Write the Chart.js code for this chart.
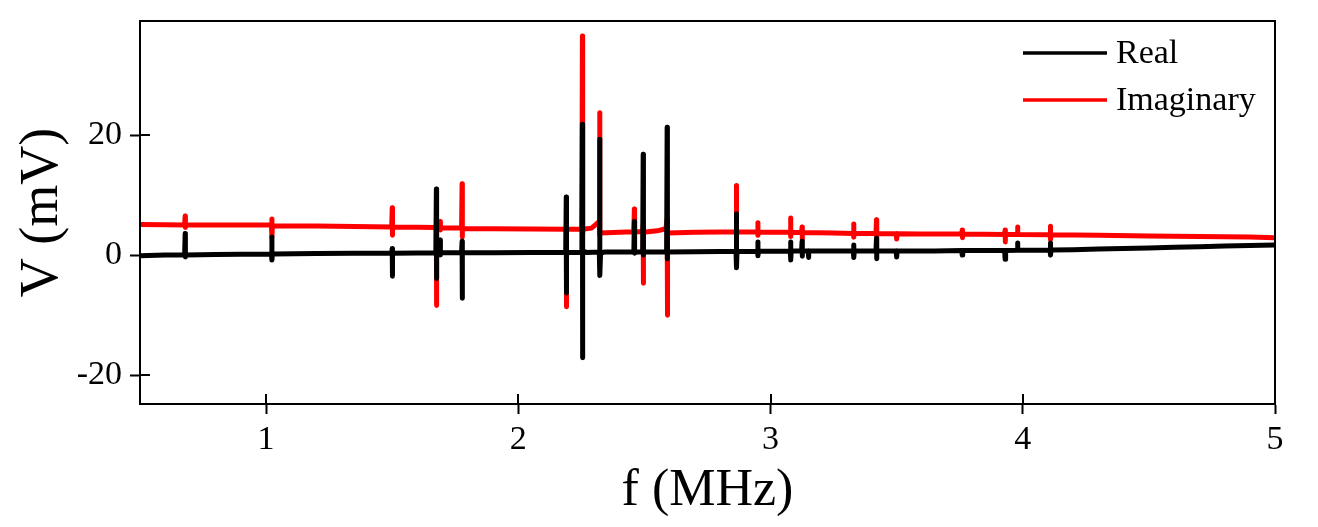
<!DOCTYPE html>
<html>
<head>
<meta charset="utf-8">
<script src="https://cdn.jsdelivr.net/npm/chart.js@4.4.1/dist/chart.umd.min.js"></script>
<style>
  html, body { margin: 0; padding: 0; background: #ffffff; }
  #wrap { width: 1318px; height: 527px; }
</style>
</head>
<body>
<div id="wrap"><canvas id="c" width="1318" height="527"></canvas></div>
<script>
// ---- Data ----
const seriesLabels = ["Real", "Imaginary"];
const seriesColors = ["#000000", "#ff0000"];
// [frequency (MHz), V (mV)]
const realPoints = [
  [0.50,-0.1],[0.60,0.0],[0.677,0.0],[0.679,3.6],[0.679,-0.3],[0.681,0.0],[0.80,0.1],[0.90,0.15],
  [1.021,0.2],[1.023,3.0],[1.023,-0.8],[1.025,0.2],[1.20,0.25],[1.35,0.3],
  [1.498,0.3],[1.50,1.1],[1.50,-3.5],[1.502,0.3],[1.60,0.35],
  [1.673,0.4],[1.675,11.0],[1.675,-3.9],[1.677,0.8],[1.688,0.6],[1.69,2.5],[1.69,0.0],[1.692,0.4],
  [1.775,0.4],[1.777,2.3],[1.777,-7.2],[1.779,0.4],[1.90,0.4],[2.05,0.45],
  [2.188,0.45],[2.19,9.7],[2.19,-6.3],[2.192,0.2],[2.20,0.45],
  [2.252,0.45],[2.254,21.8],[2.254,-17.1],[2.256,0.7],[2.27,0.45],
  [2.321,0.5],[2.323,19.3],[2.323,-3.4],[2.326,0.3],[2.34,0.5],
  [2.458,0.5],[2.46,5.6],[2.46,0.3],[2.462,0.5],
  [2.493,0.5],[2.495,16.8],[2.495,0.0],[2.497,0.5],
  [2.588,0.5],[2.59,21.3],[2.59,-0.6],[2.592,0.5],[2.70,0.55],[2.80,0.6],
  [2.863,0.6],[2.865,6.9],[2.865,-2.1],[2.867,0.6],
  [2.948,0.65],[2.95,2.2],[2.95,-0.1],[2.952,0.65],
  [3.078,0.7],[3.08,2.2],[3.08,-0.8],[3.082,0.7],
  [3.123,0.7],[3.125,2.3],[3.125,-0.2],[3.127,0.7],[3.15,0.7],[3.15,-0.4],[3.152,0.7],[3.25,0.7],
  [3.328,0.7],[3.33,1.7],[3.33,-0.4],[3.332,0.7],
  [3.418,0.7],[3.42,2.8],[3.42,-0.6],[3.422,0.7],
  [3.498,0.7],[3.50,-0.3],[3.502,0.7],[3.65,0.7],
  [3.758,0.75],[3.76,0.0],[3.762,0.75],[3.85,0.75],
  [3.928,0.75],[3.93,-0.7],[3.932,0.75],[3.978,0.8],[3.98,2.0],[3.98,0.8],
  [4.108,0.85],[4.11,2.0],[4.11,0.0],[4.112,0.85],
  [4.20,0.9],[4.30,1.0],[4.40,1.1],[4.50,1.2],[4.60,1.3],[4.70,1.4],[4.80,1.5],[4.90,1.6],[5.00,1.7]
];
const imagPoints = [
  [0.50,5.1],[0.60,5.05],[0.677,5.0],[0.679,6.5],[0.679,4.6],[0.681,5.0],[0.85,5.0],
  [1.021,5.0],[1.023,6.0],[1.023,3.0],[1.025,4.9],[1.20,4.85],[1.35,4.75],
  [1.498,4.7],[1.50,7.9],[1.50,3.3],[1.502,4.7],[1.60,4.65],
  [1.673,4.6],[1.675,4.0],[1.675,-8.4],[1.677,4.5],[1.688,4.5],[1.69,5.6],[1.69,4.2],[1.692,4.5],
  [1.775,4.5],[1.777,11.9],[1.777,3.0],[1.779,4.45],[1.90,4.4],[2.05,4.35],
  [2.188,4.3],[2.19,4.6],[2.19,-8.6],[2.192,4.3],
  [2.252,4.3],[2.254,36.5],[2.254,3.5],[2.256,4.3],[2.29,4.5],[2.31,5.2],
  [2.321,5.6],[2.323,23.7],[2.323,3.4],[2.326,3.7],[2.40,3.8],
  [2.458,3.9],[2.46,7.7],[2.46,3.6],[2.462,3.9],
  [2.493,3.9],[2.495,5.0],[2.495,-4.7],[2.497,3.8],[2.55,4.05],[2.585,4.4],
  [2.59,6.0],[2.59,-10.0],[2.593,3.7],[2.70,3.8],[2.80,3.85],
  [2.863,3.85],[2.865,11.6],[2.865,3.3],[2.867,3.85],
  [2.948,3.85],[2.95,5.4],[2.95,3.3],[2.952,3.85],
  [3.078,3.8],[3.08,6.2],[3.08,3.1],[3.082,3.8],
  [3.123,3.75],[3.125,4.7],[3.125,2.6],[3.127,3.75],[3.25,3.7],
  [3.328,3.6],[3.33,5.2],[3.33,3.0],[3.332,3.6],
  [3.418,3.6],[3.42,5.9],[3.42,3.0],[3.422,3.6],
  [3.498,3.55],[3.50,2.7],[3.502,3.55],[3.60,3.5],
  [3.758,3.5],[3.76,4.2],[3.76,2.9],[3.762,3.5],
  [3.928,3.45],[3.93,4.2],[3.93,2.2],[3.932,3.45],[3.978,3.45],[3.98,4.7],[3.98,3.45],
  [4.108,3.4],[4.11,4.8],[4.11,2.6],[4.112,3.4],
  [4.30,3.3],[4.50,3.2],[4.70,3.1],[4.90,3.0],[5.00,2.9]
];
const xTicks = [1, 2, 3, 4, 5];
const yTicks = [-20, 0, 20];
const xTitle = "f (MHz)";
const yTitle = "V (mV)";

// ---- Chart ----
const SERIF = "'Liberation Serif', 'Times New Roman', serif";
const toXY = pts => pts.map(p => ({ x: p[0], y: p[1] }));

const frameAndInnerTicks = {
  id: 'frameAndInnerTicks',
  afterDraw(chart) {
    const { ctx, chartArea: a, scales } = chart;
    ctx.save();
    ctx.strokeStyle = '#000';
    ctx.lineWidth = 2;
    ctx.strokeRect(a.left, a.top, a.right - a.left, a.bottom - a.top);
    ctx.beginPath();
    scales.x.ticks.forEach(t => {
      const px = Math.round(scales.x.getPixelForValue(t.value));
      ctx.moveTo(px, a.bottom); ctx.lineTo(px, a.bottom - 10);
    });
    scales.y.ticks.forEach(t => {
      const py = Math.round(scales.y.getPixelForValue(t.value));
      ctx.moveTo(a.left, py); ctx.lineTo(a.left + 10, py);
    });
    ctx.stroke();
    ctx.restore();
  }
};

const insideLegend = {
  id: 'insideLegend',
  afterDraw(chart) {
    const { ctx } = chart;
    ctx.save();
    ctx.font = "34px " + SERIF;
    ctx.textBaseline = 'middle';
    ctx.textAlign = 'left';
    chart.data.datasets.forEach((ds, i) => {
      const y = 53 + i * 47;
      ctx.strokeStyle = ds.borderColor;
      ctx.lineWidth = 3.5;
      ctx.beginPath();
      ctx.moveTo(1023, y); ctx.lineTo(1107, y);
      ctx.stroke();
      ctx.fillStyle = '#000';
      ctx.fillText(ds.label, 1116, y + 1);
    });
    ctx.restore();
  }
};

new Chart(document.getElementById('c'), {
  type: 'line',
  data: {
    datasets: [
      { label: seriesLabels[0], data: toXY(realPoints), borderColor: seriesColors[0], backgroundColor: seriesColors[0],
        borderWidth: 5, pointRadius: 0, tension: 0, borderJoinStyle: 'round', borderCapStyle: 'round' },
      { label: seriesLabels[1], data: toXY(imagPoints), borderColor: seriesColors[1], backgroundColor: seriesColors[1],
        borderWidth: 5, pointRadius: 0, tension: 0, borderJoinStyle: 'round', borderCapStyle: 'round' }
    ]
  },
  options: {
    responsive: false,
    animation: false,
    parsing: false,
    normalized: true,
    layout: { padding: { left: 0, top: 21, right: 43, bottom: 0 } },
    plugins: { legend: { display: false }, tooltip: { enabled: false } },
    scales: {
      x: {
        type: 'linear', min: 0.5, max: 5.0,
        afterBuildTicks: s => { s.ticks = xTicks.map(v => ({ value: v })); },
        afterFit: s => { s.height = 123; s.paddingLeft = 0; s.paddingRight = 0; },
        grid: { display: true, drawOnChartArea: false, drawTicks: true, tickLength: 10, tickWidth: 2, tickColor: '#000' },
        border: { display: true, color: '#000', width: 2 },
        ticks: { color: '#000', font: { family: SERIF, size: 34 }, padding: 6, maxRotation: 0, autoSkip: false,
                 callback: v => String(v) },
        title: { display: true, text: xTitle, color: '#000', font: { family: SERIF, size: 52, lineHeight: 1.2 },
                 padding: { top: 0, bottom: 4 } }
      },
      y: {
        type: 'linear', min: -24.8, max: 39,
        afterBuildTicks: s => { s.ticks = yTicks.map(v => ({ value: v })); },
        afterFit: s => { s.width = 140; s.paddingTop = 0; s.paddingBottom = 0; },
        grid: { display: true, drawOnChartArea: false, drawTicks: true, tickLength: 10, tickWidth: 2, tickColor: '#000' },
        border: { display: true, color: '#000', width: 2 },
        ticks: { color: '#000', font: { family: SERIF, size: 34 }, padding: 8, autoSkip: false,
                 callback: v => String(v) },
        title: { display: true, text: yTitle, color: '#000', font: { family: SERIF, size: 54, lineHeight: 1.2 },
                 padding: { top: 10, bottom: 0 } }
      }
    }
  },
  plugins: [frameAndInnerTicks, insideLegend]
});
</script>
</body>
</html>
